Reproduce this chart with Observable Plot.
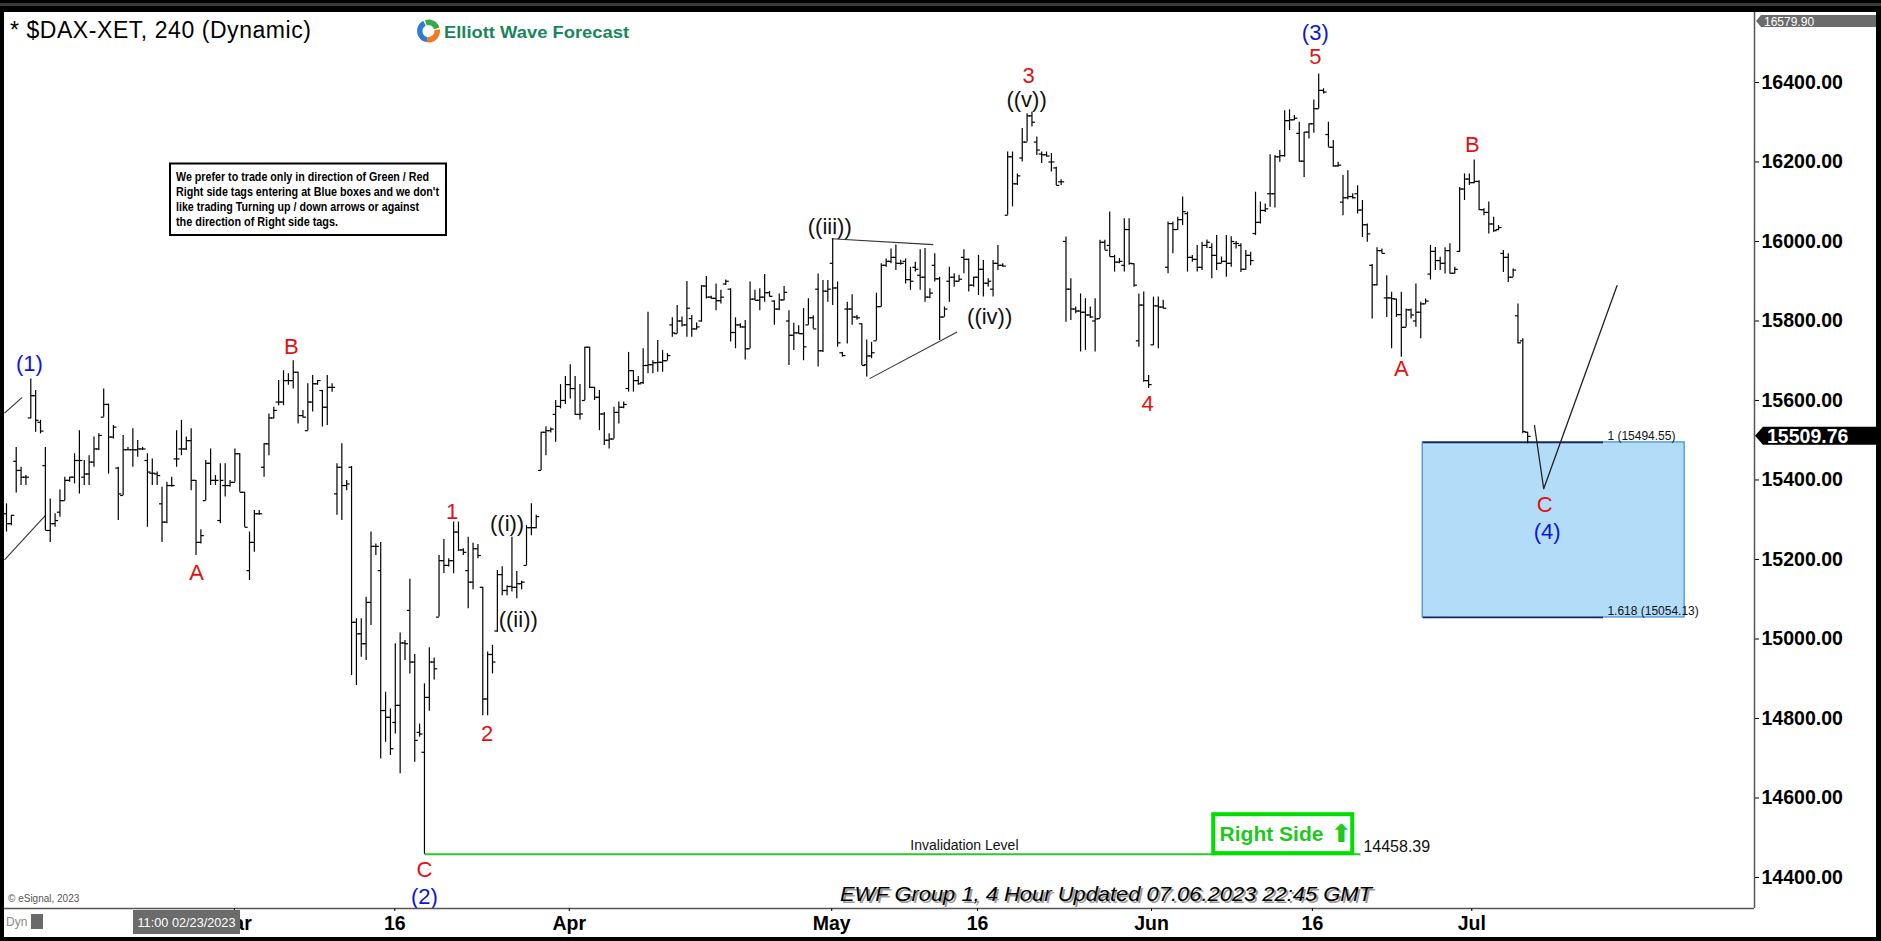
<!DOCTYPE html>
<html><head><meta charset="utf-8">
<script src="https://cdn.jsdelivr.net/npm/d3@7"></script>
<script src="https://cdn.jsdelivr.net/npm/@observablehq/plot@0.6"></script>
<style>
html,body{margin:0;padding:0;background:#000;width:1881px;height:941px;overflow:hidden;}
#topline{position:absolute;left:0;top:3px;width:1881px;height:3px;background:#3a3a3a;}
#frame{position:absolute;left:4px;top:12px;width:1872px;height:925px;background:#fff;}
#chart{position:absolute;left:0;top:0;}
</style></head><body>
<div id="topline"></div><div id="frame"></div><div id="chart"></div>
<script>
// ---- 4-hour OHLC bars (bar index = time slot) ----
const opens = [15315,15290,15447,15424,15407,15556,15612,15545,15436,15273,15290,15319,15348,15399,15407,15449,15407,15415,15445,15478,15558,15590,15508,15430,15361,15476,15476,15476,15478,15449,15417,15415,15340,15294,15386,15453,15478,15478,15499,15399,15243,15348,15442,15399,15298,15386,15386,15394,15466,15369,15172,15243,15315,15432,15491,15556,15596,15596,15650,15650,15671,15562,15524,15596,15642,15625,15583,15633,15365,15432,15386,
15432,15042,15013,14988,15092,15233,15172,14820,14803,14790,14833,14990,15072,14942,14765,14715,14853,14942,15055,15197,15185,15197,15269,15224,15172,15143,15227,15130,14849,14961,15020,15162,15122,15132,15130,15139,15185,15280,15280,15424,15520,15524,15565,15585,15600,15640,15630,15565,
15600,15734,15633,15608,15566,15500,15503,15570,15583,15630,15675,15650,15645,15688,15690,15695,15696,15700,15790,15768,15800,15790,15806,15780,15800,15888,15860,15857,15851,15893,15880,15771,15790,15785,15730,15855,15852,15860,15871,15850,15830,15853,15800,15764,15770,15768,15790,15808,15880,15725,15875,15945,15883,15720,15830,15830,15810,15793,15690,15712,15750,15836,15940,15950,15960,15945,15950,15904,
15935,15915,15910,15860,15940,15906,15810,15900,15910,15900,15960,15955,15890,15910,15930,15895,15880,15945,15940,16066,16213,16145,16210,16250,16316,16250,16220,16218,16200,16185,16150,16000,15880,15830,15825,15822,15815,15800,15806,15998,15990,15962,15948,15940,16030,15944,15750,15840,15650,15740,15838,15835,15935,16045,16030,16055,16070,15960,15955,15935,15990,15985,15965,15945,15950,15945,
15995,15990,15930,15965,16020,16048,16078,16120,16120,16213,16216,16304,16306,16272,16202,16275,16296,16334,16380,16269,16237,16190,16099,16110,16113,16120,16079,16042,15940,15891,15977,15858,15858,15855,15816,15784,15828,15800,15822,15843,15918,15975,15952,15945,15977,15920,15975,16132,16157,16148,16151,16080,16073,16044,16030,15970,15960,15910,15813,15750,15520];
const highs = [15340,15311,15482,15432,15411,15654,15625,15550,15482,15352,15315,15375,15407,15407,15466,15524,15449,15461,15508,15516,15629,15591,15537,15432,15512,15482,15529,15499,15482,15466,15453,15420,15382,15394,15407,15524,15550,15508,15529,15399,15275,15449,15478,15411,15441,15441,15399,15478,15466,15369,15269,15323,15323,15491,15566,15583,15650,15675,15667,15700,15671,15575,15642,15663,15650,15625,15663,15642,15441,15491,15399,
15434,15051,15051,15105,15269,15239,15243,14866,14824,14988,15015,14996,15150,14961,14786,14887,14978,14952,15210,15250,15202,15294,15294,15227,15256,15241,15238,15130,14967,14984,15172,15182,15134,15256,15170,15145,15285,15340,15311,15520,15534,15531,15600,15640,15660,15690,15660,15640,
15734,15734,15633,15625,15570,15516,15583,15596,15596,15721,15675,15660,15730,15822,15700,15751,15726,15718,15808,15839,15810,15899,15814,15795,15889,15912,15862,15893,15877,15903,15881,15808,15793,15801,15898,15877,15881,15917,15874,15851,15868,15887,15826,15794,15788,15831,15856,15813,15918,15902,15902,16007,15898,15721,15847,15866,15814,15793,15752,15746,15870,15944,15956,15981,15991,15953,15956,15935,
15948,15979,15982,15881,15969,15910,15835,15935,15919,15915,15979,15956,15910,15965,15952,15906,15952,15990,15944,16225,16225,16170,16284,16321,16325,16263,16225,16225,16221,16187,16155,16011,15906,15835,15868,15856,15835,15856,16003,16003,16074,15965,15957,16057,16057,15944,15868,15873,15663,15860,15860,15852,16049,16049,16061,16112,16074,15965,15990,15998,16004,15994,16015,15961,16015,16012,
16000,15994,15977,15973,16124,16099,16094,16218,16216,16229,16329,16331,16317,16300,16275,16296,16356,16421,16384,16300,16254,16199,16166,16178,16120,16140,16103,16044,15942,15984,15981,15914,15872,15855,15872,15830,15830,15893,15847,15855,15990,15985,15960,15984,15994,15935,16136,16170,16170,16205,16153,16082,16099,16061,16040,15977,15969,15931,15843,15755,15520];
const lows = [15269,15285,15367,15386,15386,15554,15520,15516,15273,15243,15281,15306,15348,15394,15390,15365,15386,15386,15432,15474,15558,15415,15503,15298,15361,15474,15432,15457,15474,15281,15386,15386,15243,15290,15382,15432,15461,15474,15373,15210,15239,15348,15386,15386,15290,15357,15382,15394,15369,15281,15147,15218,15311,15407,15461,15554,15587,15587,15638,15629,15541,15556,15524,15571,15638,15533,15537,15621,15311,15298,15373,
14908,14883,14954,14946,15034,15210,14698,14740,14707,14761,14661,14946,14912,14690,14753,14458.39,14818,14897,15055,15165,15181,15164,15220,15210,15076,15124,15202,14807,14807,14912,15017,15109,15109,15118,15101,15124,15185,15260,15277,15424,15461,15518,15495,15579,15590,15604,15562,15551,
15600,15630,15600,15524,15487,15478,15503,15541,15579,15621,15621,15638,15640,15667,15667,15671,15671,15700,15759,15768,15785,15759,15759,15777,15797,15855,15855,15826,15843,15889,15747,15730,15782,15702,15730,15851,15826,15847,15860,15789,15826,15851,15688,15726,15767,15700,15789,15780,15684,15721,15847,15839,15734,15709,15742,15789,15802,15688,15659,15705,15750,15835,15935,15944,15927,15940,15893,15877,
15923,15877,15847,15856,15898,15751,15810,15847,15885,15898,15919,15873,15885,15864,15860,15885,15860,15927,15935,16066,16087,16141,16200,16250,16288,16216,16196,16212,16175,16141,16141,15797,15801,15818,15722,15726,15806,15722,15806,15978,15961,15923,15944,15923,15940,15885,15734,15646,15630,15738,15730,15830,15919,15969,16028,16040,15923,15948,15923,15927,15982,15906,15927,15944,15910,15935,
15981,15922,15928,15939,16015,16044,16073,16086,16084,16199,16212,16279,16304,16199,16161,16258,16272,16333,16371,16237,16187,16187,16065,16105,16107,16069,16010,15998,15805,15888,15969,15809,15730,15809,15709,15784,15805,15784,15755,15843,15903,15927,15927,15918,15918,15918,15973,16103,16141,16145,16078,16065,16019,16023,16027,15922,15897,15910,15742,15516,15491];
const closes = [15290,15311,15424,15407,15407,15612,15550,15523,15273,15290,15298,15348,15399,15407,15449,15449,15415,15445,15478,15512,15590,15508,15533,15365,15476,15476,15476,15478,15478,15420,15417,15411,15294,15386,15386,15453,15478,15499,15399,15243,15260,15442,15399,15399,15399,15386,15394,15466,15369,15281,15243,15315,15315,15491,15556,15575,15596,15650,15650,15671,15562,15558,15596,15642,15650,15583,15633,15633,15432,15386,15390,
15042,15013,14988,15092,15233,15233,14820,14803,14724,14833,14990,14988,14942,14745,14761,14853,14942,14925,15197,15185,15197,15269,15224,15218,15143,15227,15210,14849,14961,14942,15162,15122,15132,15130,15139,15143,15280,15280,15308,15520,15524,15528,15585,15600,15640,15630,15565,15566,
15734,15633,15608,15566,15500,15503,15570,15583,15590,15675,15650,15642,15688,15690,15695,15696,15700,15713,15770,15800,15790,15832,15780,15785,15888,15860,15857,15851,15860,15900,15771,15790,15785,15730,15855,15852,15860,15871,15862,15830,15853,15872,15764,15770,15768,15735,15808,15780,15725,15875,15880,15883,15745,15713,15830,15810,15808,15688,15712,15720,15836,15940,15950,15960,15945,15945,15904,15900,
15930,15910,15860,15870,15906,15810,15830,15910,15900,15905,15955,15890,15910,15930,15895,15900,15945,15940,15938,16213,16145,16165,16250,16316,16300,16230,16218,16215,16200,16141,16150,15880,15830,15825,15822,15815,15810,15805,15998,15978,15962,15948,15950,16030,15945,15890,15840,15650,15640,15838,15835,15832,16045,16030,16055,16075,15960,15955,15935,15990,15998,15965,15945,15950,15945,16000,
15995,15930,15965,15952,16048,16078,16082,16120,16213,16216,16304,16306,16310,16202,16275,16296,16334,16380,16376,16237,16190,16192,16110,16113,16110,16079,16042,16019,15891,15977,15970,15858,15856,15816,15784,15828,15815,15822,15843,15850,15975,15952,15945,15977,15920,15930,16132,16157,16148,16151,16080,16073,16044,16027,16035,15960,15910,15928,15745,15522,15509.76];

// ---- axes ----
const xTickPos = [46.9, 79.9, 115.8, 169.8, 199.8, 235.6, 268.7, 301.5];
const xTickLabels = ["Mar", "16", "Apr", "May", "16", "Jun", "16", "Jul"];
const yTicks = [14400, 14600, 14800, 15000, 15200, 15400, 15600, 15800, 16000, 16200, 16400];
const xDomain = [-0.41, 359.67];
const yDomain = [14322, 16576];

// ---- wave labels ----
const labelText  = ["(1)","A","B","C","(2)","1","2","((i))","((ii))","((iii))","((iv))","((v))","3","4","5","(3)","A","B","C","(4)"];
const labelX     = [4.7, 39.1, 58.6, 86.0, 86.0, 91.7, 98.9, 103.0, 105.3, 169.4, 202.3, 209.9, 210.3, 234.8, 269.3, 269.3, 287.0, 301.6, 316.5, 317.0];
const labelPrice = [15692, 15166, 15734, 14418, 14352, 15319, 14761, 15290, 15047, 16036, 15811, 16355, 16416, 15590, 16464, 16525, 15680, 16242, 15336, 15269];
const labelKind  = ["blue","red","red","red","blue","red","red","black","black","black","black","black","red","red","red","blue","red","red","red","blue"];

// ---- drawn lines (channel / triangle) ----
const segX1 = [-0.41, -0.41, 169.8, 177.6];
const segP1 = [15568, 15199, 16007, 15655];
const segX2 = [3.23, 8.02, 190.7, 195.6];
const segP2 = [15608, 15311, 15992, 15772];

// ---- projection path ----
const projX = [314.4, 316.3, 331.4];
const projP = [15537, 15378, 15889];

// ---- blue box / fib levels ----
const boxX = [291.4, 345.3];
const fibRatio = ["1", "1.618"];
const fibValue = [15494.55, 15054.13];
const fibLineEnd = 328.5;

// ---- invalidation ----
const invalidation = 14458.39;
const invalidX = [86, 278.6];
const rightSideX = [248.4, 277.0];
const rightSideP = [14460, 14558];
const lastPrice = 15509.76;
const topPrice = 16579.90;

const bars = opens.map((o, i) => ({i, o, h: highs[i], l: lows[i], c: closes[i]}));
const labels = labelText.map((t, k) => ({t, x: labelX[k], y: labelPrice[k], k: labelKind[k]}));
const colorOf = {red: "#e21212", blue: "#0c16d8", black: "#111"};
const segs = segX1.map((x, k) => ({x1: x, y1: segP1[k], x2: segX2[k], y2: segP2[k]}));
const proj = projX.map((x, k) => ({x, y: projP[k]}));
const fibs = fibRatio.map((r, k) => ({r, v: fibValue[k]}));
const labelMap = new Map(xTickPos.map((p, k) => [p, xTickLabels[k]]));
const TW = 0.62;
const FONT = "Liberation Sans, Arial, sans-serif";

const chart = Plot.plot({
  width: 1881, height: 941,
  marginLeft: 4, marginRight: 127, marginTop: 12, marginBottom: 33,
  x: {domain: xDomain, axis: null},
  y: {domain: yDomain, axis: null},
  style: {background: "transparent", overflow: "visible", fontFamily: FONT},
  marks: [
    // blue target box
    Plot.rect([0], {x1: () => boxX[0], x2: () => boxX[1], y1: () => fibValue[0], y2: () => fibValue[1], fill: "#b3dcf9", stroke: "#3b8ed6", strokeWidth: 1.2}),
    Plot.link(fibs, {x1: () => boxX[0], x2: () => fibLineEnd, y1: "v", y2: "v", stroke: "#1b2450", strokeWidth: 1.6}),
    Plot.text(fibs, {x: () => fibLineEnd + 0.9, y: "v", text: d => `${d.r} (${d.v.toFixed(2)})`, textAnchor: "start", dy: -6, fontSize: 12, fill: "#111", fontFamily: FONT}),
    // invalidation level
    Plot.link([invalidation], {x1: () => invalidX[0], x2: () => invalidX[1], y1: d => d, y2: d => d, stroke: "#2ec82e", strokeWidth: 2}),
    Plot.text([invalidation], {x: () => 197.1, y: d => d, text: () => "Invalidation Level", dy: -9, fontSize: 14, fill: "#111", fontFamily: FONT}),
    Plot.text([invalidation], {x: () => invalidX[1] + 0.6, y: d => d, text: d => d.toFixed(2), textAnchor: "start", dy: -7, fontSize: 16, fill: "#111", fontFamily: FONT}),
    // Right Side tag
    Plot.rect([0], {x1: () => rightSideX[0], x2: () => rightSideX[1], y1: () => rightSideP[0], y2: () => rightSideP[1], fill: "#fff", stroke: "#00e000", strokeWidth: 4}),
    Plot.text([0], {x: () => rightSideX[0] + 1.2, y: () => (rightSideP[0] + rightSideP[1]) / 2, text: () => "Right Side", textAnchor: "start", fontSize: 21, fontWeight: "bold", fill: "#1ec81e", fontFamily: FONT}),
    Plot.text([0], {x: () => rightSideX[1] - 2.3, y: () => (rightSideP[0] + rightSideP[1]) / 2, text: () => "⬆", fontSize: 25, fontWeight: "bold", fill: "#1ec81e", fontFamily: "DejaVu Sans"}),
    // channel / triangle lines
    Plot.link(segs, {x1: "x1", y1: "y1", x2: "x2", y2: "y2", stroke: "#333", strokeWidth: 1.1}),
    // OHLC bars
    Plot.ruleX(bars, {x: "i", y1: "l", y2: "h", stroke: "#000", strokeWidth: 1.2}),
    Plot.link(bars, {x1: d => d.i - TW, x2: "i", y1: "o", y2: "o", stroke: "#000", strokeWidth: 1.2}),
    Plot.link(bars, {x1: "i", x2: d => d.i + TW, y1: "c", y2: "c", stroke: "#000", strokeWidth: 1.2}),
    // projection
    Plot.line(proj, {x: "x", y: "y", stroke: "#222", strokeWidth: 1.3}),
    // wave labels
    Plot.text(labels, {x: "x", y: "y", text: "t", fill: d => colorOf[d.k], fontSize: 22, fontFamily: FONT}),
    // frame lines
    Plot.ruleY([yDomain[0]], {stroke: "#555", strokeWidth: 1.5}),
    Plot.ruleX([xDomain[1]], {stroke: "#555", strokeWidth: 1.5}),
    // axes
    Plot.axisY(yTicks, {anchor: "right", tickSize: 4, tickPadding: 3, tickFormat: d => d.toFixed(2), fontSize: 19.5, fontWeight: "bold", fontFamily: FONT, color: "#000"}),
    Plot.axisX(xTickPos, {anchor: "bottom", tickSize: 3, tickPadding: 5, tickFormat: d => labelMap.get(d), fontSize: 19.5, fontWeight: "bold", fontFamily: FONT, color: "#000"})
  ]
});
document.getElementById("chart").append(chart);

// ---- overlay decorations ----
const svg = d3.select(chart);
const ys = chart.scale("y");
const ov = svg.append("g").attr("text-anchor", "start");
function txt(x, y, s, a) { const t = ov.append("text").attr("x", x).attr("y", y).attr("text-anchor", "start").text(s); for (const k in a) t.attr(k, a[k]); return t; }

// title
txt(10, 38, "* $DAX-XET, 240 (Dynamic)", {"font-size": 23, "font-family": FONT, fill: "#000", textLength: 301, lengthAdjust: "spacing"});
// logo
const lg = ov.append("g").attr("transform", "translate(428.5,31)");
const arc = d3.arc().innerRadius(6).outerRadius(11.5);
lg.append("path").attr("d", arc({startAngle: -Math.PI * 0.95, endAngle: -Math.PI * 0.15})).attr("fill", "#2a7fd0");
lg.append("path").attr("d", arc({startAngle: Math.PI * 0.45, endAngle: Math.PI * 1.05})).attr("fill", "#f07a1e");
lg.append("path").attr("d", arc({startAngle: -Math.PI * 0.1, endAngle: Math.PI * 0.4})).attr("fill", "#35a84a");
txt(444, 37.5, "Elliott Wave Forecast", {"font-size": 17, "font-weight": "bold", "font-family": FONT, fill: "#18865a", textLength: 185, lengthAdjust: "spacingAndGlyphs"});
// note box
ov.append("rect").attr("x", 170).attr("y", 163.5).attr("width", 276).attr("height", 71.5).attr("fill", "#fff").attr("stroke", "#000").attr("stroke-width", 2);
const noteLines = ["We prefer to trade only in direction of Green / Red", "Right side tags entering at Blue boxes and we don't", "like trading Turning up / down arrows or against", "the direction of Right side tags."];
const noteW = [253, 263, 243, 162];
noteLines.forEach((s, k) => txt(176, 180.5 + k * 15.2, s, {"font-size": 12, "font-weight": "bold", "font-family": FONT, fill: "#000", textLength: noteW[k], lengthAdjust: "spacingAndGlyphs"}));
// footer text with shadow
txt(842, 903, "EWF Group 1, 4 Hour Updated 07.06.2023 22:45 GMT", {"font-size": 21, "font-style": "italic", "font-family": FONT, fill: "#9a9a9a", textLength: 532, lengthAdjust: "spacingAndGlyphs"});
txt(840, 901, "EWF Group 1, 4 Hour Updated 07.06.2023 22:45 GMT", {"font-size": 21, "font-style": "italic", "font-family": FONT, fill: "#000", textLength: 532, lengthAdjust: "spacingAndGlyphs"});
txt(8, 902, "© eSignal, 2023", {"font-size": 10, "font-family": FONT, fill: "#555"});
// bottom-left status
txt(6, 926, "Dyn", {"font-size": 12, "font-family": FONT, fill: "#8a8a8a"});
ov.append("rect").attr("x", 31).attr("y", 914).attr("width", 12).attr("height", 15).attr("fill", "#6a6a6a");
ov.append("rect").attr("x", 133).attr("y", 910).attr("width", 107).attr("height", 24).attr("fill", "#6b6b6b");
txt(137.5, 927, "11:00 02/23/2023", {"font-size": 12.5, "font-family": FONT, fill: "#fff", textLength: 98, lengthAdjust: "spacingAndGlyphs"});
// price markers on the axis
const yl = ys.apply(lastPrice);
ov.append("path").attr("d", `M1755,${yl} L1763,${yl - 9} L1876,${yl - 9} L1876,${yl + 9} L1763,${yl + 9} Z`).attr("fill", "#000");
txt(1767, yl + 7, lastPrice.toFixed(2), {"font-size": 19.5, "font-weight": "bold", "font-family": FONT, fill: "#fff"});
const yt = Math.max(ys.apply(topPrice), 15) + 6;
ov.append("path").attr("d", `M1756,${yt} L1761,${yt - 6} L1876,${yt - 6} L1876,${yt + 6} L1761,${yt + 6} Z`).attr("fill", "#6b6b6b");
txt(1764, yt + 4.5, topPrice.toFixed(2), {"font-size": 12, "font-family": FONT, fill: "#fff"});
</script></body></html>
